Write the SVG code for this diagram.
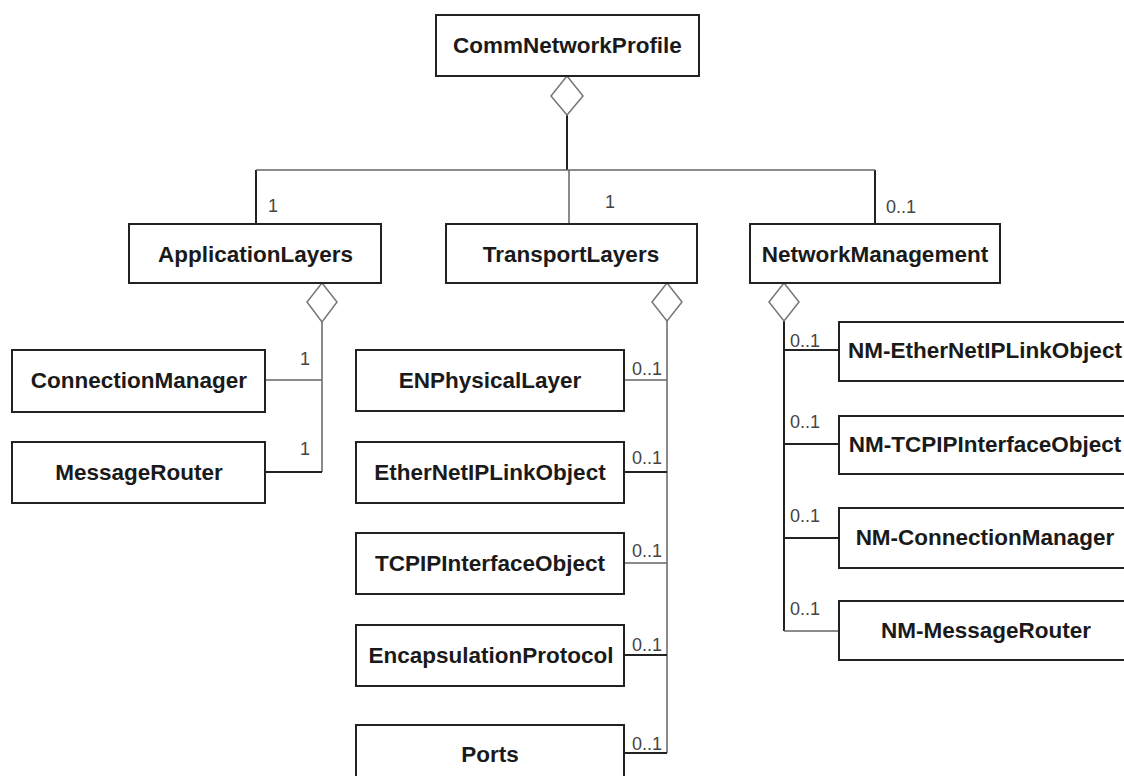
<svg xmlns="http://www.w3.org/2000/svg" width="1124" height="776" viewBox="0 0 1124 776">
<style>
.box{fill:#fff;stroke:#222;stroke-width:2}
.t{font-family:"Liberation Sans",Arial,sans-serif;font-weight:bold;font-size:22.5px;fill:#1a1a1a;text-anchor:middle}
.m{font-family:"Liberation Sans",Arial,sans-serif;font-size:18px;fill:#444}
.ln{stroke:#222;stroke-width:2;fill:none}
.lt{stroke:#666;stroke-width:1.5;fill:none}
.dia{fill:#fff;stroke:#777;stroke-width:1.5}
</style>
<rect width="1124" height="776" fill="#fff"/>
<g id="connectors">
<path class="ln" d="M567 115V170M256 170V224M875 170V224"/>
<path class="lt" d="M256 170H875M569 170V224"/>
<path class="lt" d="M322 322V472M265 380H322"/>
<path class="ln" d="M265 472H322"/>
<path class="lt" d="M667 321V753M622 380H667M622 563H667"/>
<path class="ln" d="M622 472H667M622 655H667M622 753H667"/>
<path class="ln" d="M784 321V631M784 350H839M784 444H839M784 538H839"/>
<path class="lt" d="M784 631H839"/>
<polygon class="dia" points="567,76 583,96 567,115 551,96"/>
<polygon class="dia" points="322,283 337,302 322,322 307,302"/>
<polygon class="dia" points="667,283 682,302 667,321 652,302"/>
<polygon class="dia" points="784,283 799,302 784,321 769,302"/>
<text class="m" x="268" y="212">1</text>
<text class="m" x="605" y="208">1</text>
<text class="m" x="886" y="213">0..1</text>
<text class="m" x="300" y="365">1</text>
<text class="m" x="300" y="455">1</text>
<text class="m" x="632" y="375">0..1</text>
<text class="m" x="632" y="464">0..1</text>
<text class="m" x="632" y="557">0..1</text>
<text class="m" x="632" y="651">0..1</text>
<text class="m" x="632" y="750">0..1</text>
<text class="m" x="790" y="347">0..1</text>
<text class="m" x="790" y="428">0..1</text>
<text class="m" x="790" y="522">0..1</text>
<text class="m" x="790" y="615">0..1</text>
</g>
<g id="CommNetworkProfile"><rect class="box" x="436" y="15" width="263" height="61"/><text class="t" x="567.5" y="53">CommNetworkProfile</text></g>
<g id="ApplicationLayers"><rect class="box" x="129" y="224" width="252" height="59"/><text class="t" x="255.5" y="262">ApplicationLayers</text></g>
<g id="TransportLayers"><rect class="box" x="446" y="224" width="251" height="59"/><text class="t" x="571" y="262">TransportLayers</text></g>
<g id="NetworkManagement"><rect class="box" x="750" y="224" width="250" height="59"/><text class="t" x="875" y="262">NetworkManagement</text></g>
<g id="ConnectionManager"><rect class="box" x="12" y="350" width="253" height="62"/><text class="t" x="139" y="388">ConnectionManager</text></g>
<g id="MessageRouter"><rect class="box" x="12" y="442" width="253" height="61"/><text class="t" x="139" y="480">MessageRouter</text></g>
<g id="ENPhysicalLayer"><rect class="box" x="356" y="350" width="268" height="61"/><text class="t" x="490" y="388">ENPhysicalLayer</text></g>
<g id="EtherNetIPLinkObject"><rect class="box" x="356" y="442" width="268" height="61"/><text class="t" x="490" y="480">EtherNetIPLinkObject</text></g>
<g id="TCPIPInterfaceObject"><rect class="box" x="356" y="533" width="268" height="61"/><text class="t" x="490" y="571">TCPIPInterfaceObject</text></g>
<g id="EncapsulationProtocol"><rect class="box" x="356" y="625" width="268" height="61"/><text class="t" x="491" y="663">EncapsulationProtocol</text></g>
<g id="Ports"><rect class="box" x="356" y="725" width="268" height="61"/><text class="t" x="490" y="762">Ports</text></g>
<g id="NM-EtherNetIPLinkObject"><rect class="box" x="839" y="322" width="292" height="59"/><text class="t" x="985" y="358">NM-EtherNetIPLinkObject</text></g>
<g id="NM-TCPIPInterfaceObject"><rect class="box" x="839" y="416" width="292" height="58"/><text class="t" x="985" y="452">NM-TCPIPInterfaceObject</text></g>
<g id="NM-ConnectionManager"><rect class="box" x="839" y="508" width="292" height="60"/><text class="t" x="985" y="545">NM-ConnectionManager</text></g>
<g id="NM-MessageRouter"><rect class="box" x="839" y="601" width="292" height="59"/><text class="t" x="986" y="638">NM-MessageRouter</text></g>
</svg>
